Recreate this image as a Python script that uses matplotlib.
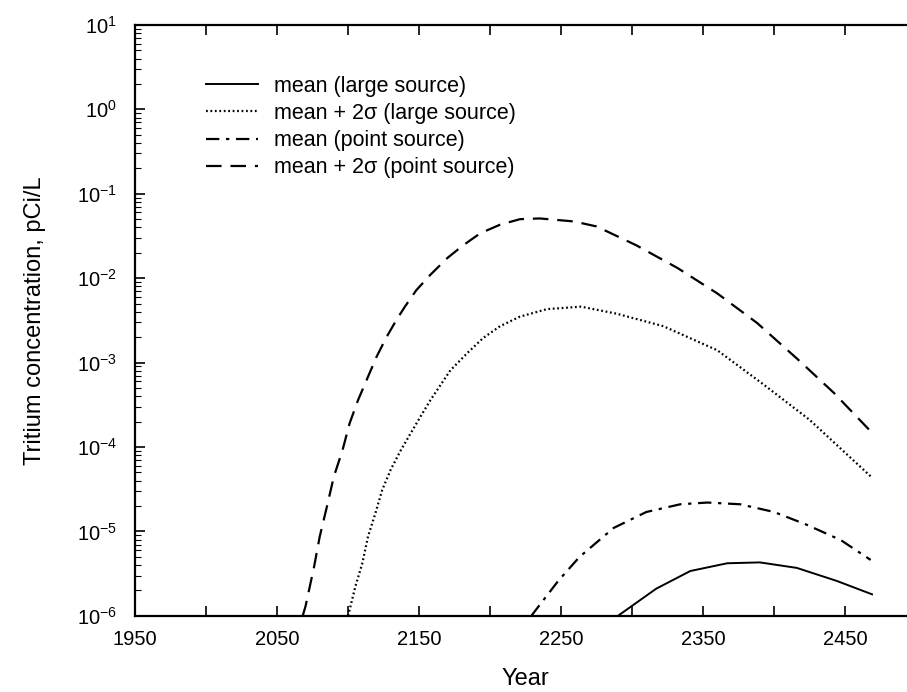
import numpy as np
import matplotlib
matplotlib.use("Agg")
import matplotlib.pyplot as plt
from matplotlib.ticker import MultipleLocator, LogLocator, NullFormatter, FixedLocator

plt.rcParams['font.family'] = ['Liberation Sans', 'DejaVu Sans']
plt.rcParams['axes.unicode_minus'] = False

# mean (large source)
yr_ml = [2290, 2317, 2341, 2367, 2390, 2416, 2444, 2469]
c_ml = [1.0e-6, 2.1e-6, 3.4e-6, 4.2e-6, 4.3e-6, 3.7e-6, 2.6e-6, 1.8e-6]

# mean + 2 sigma (large source)
yr_sl = [2100, 2105, 2110, 2114, 2119, 2124, 2130, 2137, 2144, 2151, 2158,
         2165, 2172, 2184, 2195, 2207, 2221, 2240, 2264, 2289, 2322, 2360,
         2392, 2425, 2468]
c_sl = [1.0e-6, 2.2e-6, 4.2e-6, 8.7e-6, 1.6e-5, 3.1e-5, 5.4e-5, 9.1e-5,
        1.45e-4, 2.3e-4, 3.6e-4, 5.4e-4, 8.1e-4, 1.3e-3, 1.95e-3, 2.7e-3,
        3.5e-3, 4.3e-3, 4.6e-3, 3.8e-3, 2.7e-3, 1.4e-3, 5.6e-4, 2.1e-4, 4.5e-5]

# mean (point source)
yr_mp = [2229, 2248, 2263, 2287, 2310, 2334, 2353, 2376, 2400, 2423, 2447, 2468]
c_mp = [1.0e-6, 2.6e-6, 5.0e-6, 1.1e-5, 1.7e-5, 2.1e-5, 2.2e-5, 2.1e-5,
        1.7e-5, 1.2e-5, 7.9e-6, 4.6e-6]

# mean + 2 sigma (point source)
yr_sp = [2068, 2070, 2076, 2080, 2085, 2090, 2096, 2101, 2107, 2114, 2120,
         2127, 2134, 2140, 2148, 2158, 2170, 2181, 2193, 2207, 2221, 2235,
         2259, 2275, 2303, 2332, 2360, 2388, 2416, 2442, 2467]
c_sp = [1.0e-6, 1.3e-6, 3.8e-6, 8.7e-6, 1.95e-5, 4.5e-5, 9.1e-5, 1.9e-4,
        3.6e-4, 6.8e-4, 1.17e-3, 2.0e-3, 3.2e-3, 4.6e-3, 7.2e-3, 1.1e-2,
        1.74e-2, 2.45e-2, 3.4e-2, 4.3e-2, 5.0e-2, 5.1e-2, 4.7e-2, 4.1e-2,
        2.45e-2, 1.32e-2, 6.6e-3, 2.95e-3, 1.12e-3, 4.4e-4, 1.6e-4]

y_ticks = [1e-6, 1e-5, 1e-4, 1e-3, 1e-2, 1e-1, 1e0, 1e1]
x_ticks = [1950, 2050, 2150, 2250, 2350, 2450]

fig = plt.figure(figsize=(9.07, 6.92), dpi=100)
ax = fig.add_axes([0.149, 0.110, 0.861, 0.854])

ax.plot(yr_ml, c_ml, color='black', lw=1.4, ls='-', label='mean (large source)')
ax.plot(yr_sl, c_sl, color='black', lw=1.6, ls=(0, (0.8, 1.2)),
        label='mean + 2σ (large source)')
ax.plot(yr_mp, c_mp, color='black', lw=1.6, ls=(0, (6, 3, 1.5, 3)),
        label='mean (point source)')
ax.plot(yr_sp, c_sp, color='black', lw=1.6, ls=(0, (7, 4)),
        label='mean + 2σ (point source)')

ax.set_yscale('log')
ax.set_xlim(1950, 2500)
ax.set_ylim(1e-6, 1e1)

ax.xaxis.set_major_locator(FixedLocator(x_ticks))
ax.xaxis.set_minor_locator(MultipleLocator(50))
ax.yaxis.set_major_locator(FixedLocator(y_ticks))
ax.yaxis.set_minor_locator(LogLocator(base=10, subs=np.arange(2, 10), numticks=20))
ax.yaxis.set_minor_formatter(NullFormatter())

ax.tick_params(which='both', direction='in', top=True, right=False, labelsize=14.5)
ax.tick_params(which='major', length=7, width=1.2)
ax.tick_params(which='minor', length=4, width=0.8)
ax.tick_params(axis='x', which='minor', length=7, width=1.2)
ax.tick_params(axis='x', which='major', pad=10)
ax.tick_params(axis='y', which='major', pad=13)
for s in ax.spines.values():
    s.set_linewidth(1.6)

ax.set_xlabel('Year', fontsize=17, labelpad=14)
ax.set_ylabel('Tritium concentration, pCi/L', fontsize=17, labelpad=22)

ax.legend(loc='upper left', bbox_to_anchor=(0.066, 0.947), frameon=False,
          fontsize=15.5, handlelength=2.4, handletextpad=0.75, labelspacing=0.29)

fig.savefig('out.png', dpi=100)
